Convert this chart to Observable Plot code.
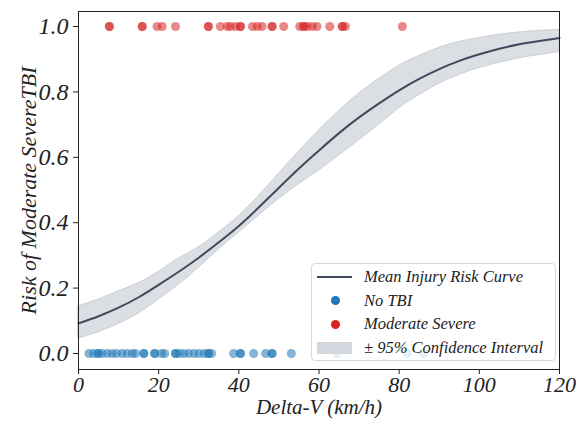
<!DOCTYPE html>
<html><head><meta charset="utf-8">
<script src="https://cdn.jsdelivr.net/npm/d3@7"></script>
<script src="https://cdn.jsdelivr.net/npm/@observablehq/plot@0.6"></script>
<style>
body{margin:0;background:#fff;}
#wrap{position:relative;width:576px;height:424px;}
#legend{position:absolute;left:311px;top:263px;width:245px;height:98px;box-sizing:border-box;border:1px solid #d9d9d9;border-radius:4px;background:rgba(255,255,255,0.8);color:#222;z-index:2;}
.row{position:absolute;left:0;height:20px;display:flex;align-items:center;white-space:nowrap;}
.sym{width:52px;position:relative;height:20px;}
.lbl{font-family:'Liberation Serif';font-style:italic;font-size:16.5px;}
</style></head>
<body><div id="wrap">
<div id="legend">
  <div class="row" style="top:3px"><div class="sym"><div id="s0" style="position:absolute;left:5px;top:9px;width:35px;height:2px;"></div></div><span class="lbl">Mean Injury Risk Curve</span></div>
  <div class="row" style="top:26.5px"><div class="sym"><div id="s1" style="position:absolute;left:18.5px;top:5.5px;width:9px;height:9px;border-radius:50%;"></div></div><span class="lbl">No TBI</span></div>
  <div class="row" style="top:50px"><div class="sym"><div id="s2" style="position:absolute;left:18.5px;top:5.5px;width:9px;height:9px;border-radius:50%;"></div></div><span class="lbl">Moderate Severe</span></div>
  <div class="row" style="top:73.5px"><div class="sym"><div id="s3" style="position:absolute;left:5px;top:4px;width:35px;height:12px;"></div></div><span class="lbl">± 95% Confidence Interval</span></div>
</div>
</div>
<script>
// Delta-V (km/h) of observed cases
const noTBI = [2.6, 3.8, 4.9, 4.9, 5.9, 7.2, 8.4, 9.5, 10.9, 12.1, 13.4, 14.2, 16.3, 16.3, 19.0, 19.0, 20.7, 21.5, 24.2, 24.2, 25.2, 26.3, 27.5, 28.8, 30.0, 31.3, 32.4, 32.4, 33.2, 38.7, 40.4, 40.4, 43.7, 46.7, 48.3, 48.3, 53.1, 64.5, 82.0, 86.1];
const moderateSevere = [7.7, 7.7, 15.9, 15.9, 19.6, 20.9, 24.2, 32.4, 32.4, 35.4, 37.1, 37.9, 39.2, 40.4, 40.4, 43.4, 44.6, 45.8, 48.3, 48.3, 51.2, 55.2, 56.2, 56.2, 57.1, 58.3, 59.5, 62.7, 65.8, 65.8, 66.6, 80.8];
// Risk curve
const curveX = [0, 5, 10, 15, 20, 25, 30, 35, 40, 45, 50, 55, 60, 65, 70, 75, 80, 85, 90, 95, 100, 105, 110, 115, 120];
const meanRisk = [0.092, 0.114, 0.140, 0.172, 0.210, 0.250, 0.293, 0.340, 0.390, 0.447, 0.507, 0.566, 0.621, 0.674, 0.722, 0.765, 0.805, 0.840, 0.870, 0.895, 0.915, 0.932, 0.946, 0.956, 0.965];
const lowerCI = [0.045, 0.065, 0.090, 0.122, 0.165, 0.210, 0.262, 0.318, 0.370, 0.422, 0.472, 0.518, 0.560, 0.605, 0.652, 0.700, 0.750, 0.790, 0.825, 0.852, 0.873, 0.889, 0.903, 0.913, 0.922];
const upperCI = [0.145, 0.165, 0.190, 0.215, 0.250, 0.290, 0.325, 0.370, 0.420, 0.482, 0.550, 0.617, 0.682, 0.742, 0.795, 0.840, 0.880, 0.910, 0.935, 0.953, 0.965, 0.975, 0.982, 0.987, 0.990];
const xTicks = [0, 20, 40, 60, 80, 100, 120];
const yTicks = [0.0, 0.2, 0.4, 0.6, 0.8, 1.0];

const curve = curveX.map((x, i) => ({x, mean: meanRisk[i], lo: lowerCI[i], hi: upperCI[i]}));
const pts = [...noTBI.map(x => ({x, y: 0})), ...moderateSevere.map(x => ({x, y: 1}))];

const font = {fontFamily: "Liberation Serif", fontStyle: "italic"};
const BLUE = "#1f77b4", RED = "#d62728", LINE = "#3e4a5c", BAND = "#d5d8de";

document.getElementById("s0").style.background = LINE;
document.getElementById("s1").style.background = BLUE;
document.getElementById("s2").style.background = RED;
document.getElementById("s3").style.background = "#d4d7de";

const chart = Plot.plot({
  width: 576, height: 424,
  marginLeft: 78, marginRight: 17, marginTop: 11, marginBottom: 55,
  style: {background: "#fff", color: "#222"},
  x: {domain: [0, 120]},
  y: {domain: [-0.049, 1.046]},
  marks: [
    Plot.areaY(curve, {x: "x", y1: "lo", y2: "hi", fill: BAND, fillOpacity: 0.85, stroke: "#c4c7cf", strokeWidth: 0.8, curve: "natural"}),
    Plot.dot(pts.filter(d => d.y === 0), {x: "x", y: "y", r: 4.5, fill: BLUE, fillOpacity: 0.55, stroke: "none"}),
    Plot.dot(pts.filter(d => d.y === 1), {x: "x", y: "y", r: 4.5, fill: RED, fillOpacity: 0.55, stroke: "none"}),
    Plot.line(curve, {x: "x", y: "mean", stroke: LINE, strokeWidth: 2, curve: "natural"}),
    Plot.frame({stroke: "#222", strokeWidth: 1}),
    Plot.axisX(xTicks, {tickSize: 5, tickPadding: 2, fontSize: 22, ...font, label: null, tickFormat: d => String(d)}),
    Plot.axisY(yTicks, {tickSize: 5, tickPadding: 5, fontSize: 24, ...font, label: null, tickFormat: d => d.toFixed(1)}),
    Plot.text(["Delta-V (km/h)"], {frameAnchor: "bottom", dy: 44, fontSize: 21, ...font, fill: "#222"}),
    Plot.text(["Risk of Moderate SevereTBI"], {frameAnchor: "left", dx: -50, rotate: -90, textAnchor: "middle", fontSize: 22, ...font, fill: "#222"})
  ]
});
const wrap = document.getElementById("wrap");
wrap.insertBefore(chart, wrap.firstChild);
chart.style.position = "absolute"; chart.style.left = "0"; chart.style.top = "0";
</script></body></html>
